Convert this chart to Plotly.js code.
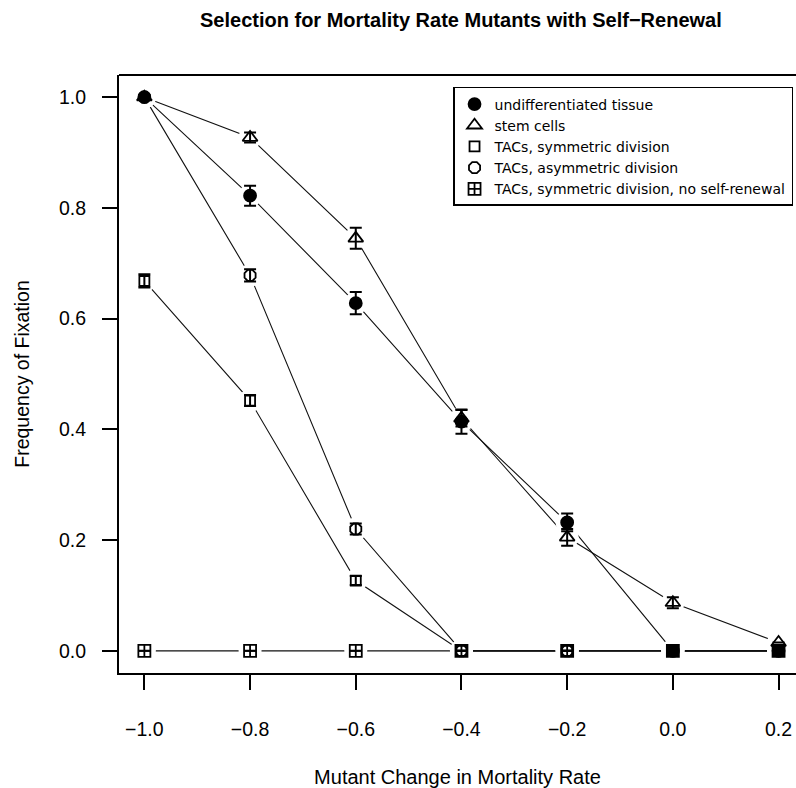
<!DOCTYPE html>
<html>
<head>
<meta charset="utf-8">
<script src="https://cdn.plot.ly/plotly-3.0.1.min.js"></script>
<style>html,body{margin:0;padding:0;background:#fff;}#chart{width:796px;height:788px;}</style>
</head>
<body>
<div id="chart"></div>
<script>
// ---- data ----
var mortalityChange = [-1.0, -0.8, -0.6, -0.4, -0.2, 0.0, 0.2];
var seriesNames = [
  "undifferentiated tissue",
  "stem cells",
  "TACs, symmetric division",
  "TACs, asymmetric division",
  "TACs, symmetric division, no self-renewal"
];
var undiffTissue    = [1.0, 0.822, 0.628, 0.414, 0.232, 0.0, 0.0];
var undiffTissueErr = [null, 0.018, 0.020, 0.022, 0.016, null, null];
var stemCells       = [1.0, 0.927, 0.745, 0.420, 0.205, 0.087, 0.015];
var stemCellsErr    = [null, 0.009, 0.019, 0.015, 0.015, 0.010, null];
var tacSym          = [0.668, 0.452, 0.127, 0.0, 0.0, 0.0, 0.0];
var tacSymErr       = [0.012, 0.010, 0.008, null, null, null, null];
var tacAsym         = [1.0, 0.678, 0.220, 0.0, 0.0, 0.0, 0.0];
var tacAsymErr      = [null, 0.011, 0.010, null, null, null, null];
var tacSymNoRenew   = [0.0, 0.0, 0.0, 0.0, 0.0, 0.0, 0.0];
var tacSymNoRenewErr= [null, null, null, null, null, null, null];
var xTicks = [-1.0, -0.8, -0.6, -0.4, -0.2, 0.0, 0.2];
var yTicks = [0.0, 0.2, 0.4, 0.6, 0.8, 1.0];

var values = [undiffTissue, stemCells, tacSym, tacAsym, tacSymNoRenew];
var errors = [undiffTissueErr, stemCellsErr, tacSymErr, tacAsymErr, tacSymNoRenewErr];
var symbols = ["circle", "triangle-up-open", "square-open", "octagon-open", "square-cross-open"];
var sizes = [12, 13, 10, 12, 12];

var traces = [];
// connecting lines
values.forEach(function (v) {
  traces.push({x: mortalityChange, y: v, mode: "lines", type: "scatter",
    line: {color: "#111", width: 1.1}, showlegend: false, hoverinfo: "skip"});
});
// white gaps around points (R type="b" look)
values.forEach(function (v) {
  traces.push({x: mortalityChange, y: v, mode: "markers", type: "scatter",
    marker: {symbol: "circle", size: 23, color: "#fff", line: {width: 0}},
    showlegend: false, hoverinfo: "skip"});
});
// points with error bars
values.forEach(function (v, i) {
  traces.push({x: mortalityChange, y: v, mode: "markers", type: "scatter",
    name: seriesNames[i],
    marker: {symbol: symbols[i], size: sizes[i], color: "#000", line: {color: "#000", width: 1.8}},
    error_y: {type: "data", array: errors[i], visible: true, color: "#000", thickness: 2, width: 6}
  });
});

var fam = "Liberation Sans, Arial, Helvetica, sans-serif";

var layout = {
  width: 796, height: 788,
  margin: {l: 119, r: 0, t: 75, b: 115, pad: 0},
  paper_bgcolor: "#fff", plot_bgcolor: "#fff",
  font: {family: fam, color: "#000", size: 19.5},
  title: {text: "<b>Selection for Mortality Rate Mutants with Self\u2212Renewal</b>",
    font: {family: fam, size: 20, color: "#000"},
    xref: "paper", x: 0.505, xanchor: "center", yref: "container", y: 1 - 20/788, yanchor: "middle"},
  xaxis: {
    range: [-1.048, 0.233], tickvals: xTicks, tickformat: ".1f",
    showgrid: false, zeroline: false, showline: true, linecolor: "#000", linewidth: 2,
    ticks: "outside", ticklen: 15, tickwidth: 2, tickcolor: "#000",
    ticklabelstandoff: 23, tickfont: {size: 19.5, color: "#000"},
    title: {text: "Mutant Change in Mortality Rate", font: {size: 20, color: "#000"}, standoff: 36},
    automargin: false
  },
  yaxis: {
    range: [-0.04, 1.04], tickvals: yTicks, tickformat: ".1f",
    showgrid: false, zeroline: false, showline: true, linecolor: "#000", linewidth: 2,
    ticks: "outside", ticklen: 15, tickwidth: 2, tickcolor: "#000",
    ticklabelstandoff: 12, tickfont: {size: 19.5, color: "#000"},
    title: {text: "Frequency of Fixation", font: {size: 19.5, color: "#000"}, standoff: 24},
    automargin: false
  },
  shapes: [{type: "line", xref: "paper", yref: "paper", x0: 0, x1: 1, y0: 1, y1: 1,
    line: {color: "#000", width: 2}}],
  legend: {x: 0.4934, xanchor: "left", y: 0.98, yanchor: "top",
    bgcolor: "#fff", bordercolor: "#000", borderwidth: 1.5,
    font: {family: "DejaVu Sans, Liberation Sans, sans-serif", size: 14, color: "#000"}},
  showlegend: true
};

Plotly.newPlot("chart", traces, layout, {displayModeBar: false, staticPlot: true});
</script>
</body>
</html>
